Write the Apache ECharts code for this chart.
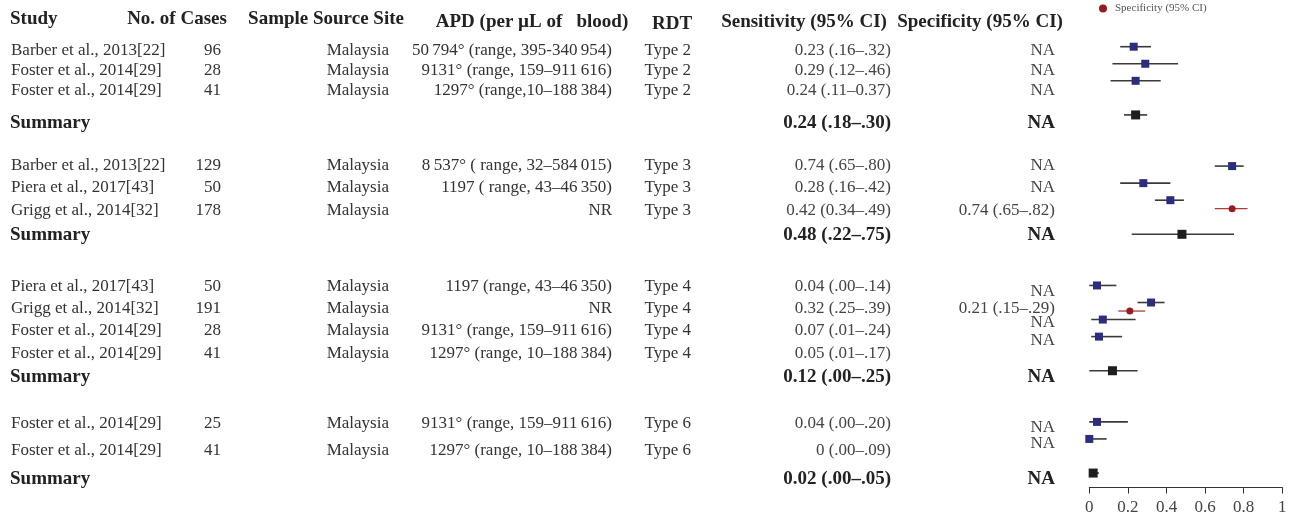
<!DOCTYPE html>
<html>
<head>
<meta charset="utf-8">
<script src="https://cdn.jsdelivr.net/npm/echarts@6/dist/echarts.min.js"></script>
<style>
  html, body { margin: 0; padding: 0; background: #fff; }
  #chart { width: 1295px; height: 518px; }
</style>
</head>
<body>
<div id="chart"></div>
<script>
// ---- study-level data ----
const groupSizes = [3, 3, 4, 2];
const studies = [
  "Barber et al., 2013[22]", "Foster et al., 2014[29]", "Foster et al., 2014[29]",
  "Barber et al., 2013[22]", "Piera et al., 2017[43]", "Grigg et al., 2014[32]",
  "Piera et al., 2017[43]", "Grigg et al., 2014[32]", "Foster et al., 2014[29]", "Foster et al., 2014[29]",
  "Foster et al., 2014[29]", "Foster et al., 2014[29]"
];
const cases = [96, 28, 41, 129, 50, 178, 50, 191, 28, 41, 25, 41];
const sites = ["Malaysia", "Malaysia", "Malaysia", "Malaysia", "Malaysia", "Malaysia",
  "Malaysia", "Malaysia", "Malaysia", "Malaysia", "Malaysia", "Malaysia"];
const apd = [
  "50\u2009794° (range, 395-340\u2009954)", "9131° (range, 159–911\u2009616)", "1297° (range,10–188\u2009384)",
  "8\u2009537° ( range, 32–584\u2009015)", "1197 ( range, 43–46\u2009350)", "NR",
  "1197 (range, 43–46\u2009350)", "NR", "9131° (range, 159–911\u2009616)", "1297° (range, 10–188\u2009384)",
  "9131° (range, 159–911\u2009616)", "1297° (range, 10–188\u2009384)"
];
const rdt = ["Type 2", "Type 2", "Type 2", "Type 3", "Type 3", "Type 3",
  "Type 4", "Type 4", "Type 4", "Type 4", "Type 6", "Type 6"];

// sensitivity (95% CI)
const sensEst = [0.23, 0.29, 0.24, 0.74, 0.28, 0.42, 0.04, 0.32, 0.07, 0.05, 0.04, 0.00];
const sensLo  = [0.16, 0.12, 0.11, 0.65, 0.16, 0.34, 0.00, 0.25, 0.01, 0.01, 0.00, 0.00];
const sensHi  = [0.32, 0.46, 0.37, 0.80, 0.42, 0.49, 0.14, 0.39, 0.24, 0.17, 0.20, 0.09];
const sensText = [
  "0.23 (.16–.32)", "0.29 (.12–.46)", "0.24 (.11–0.37)",
  "0.74 (.65–.80)", "0.28 (.16–.42)", "0.42 (0.34–.49)",
  "0.04 (.00–.14)", "0.32 (.25–.39)", "0.07 (.01–.24)", "0.05 (.01–.17)",
  "0.04 (.00–.20)", "0 (.00–.09)"
];

// specificity (95% CI); null = not available
const specEst = [null, null, null, null, null, 0.74, null, 0.21, null, null, null, null];
const specLo  = [null, null, null, null, null, 0.65, null, 0.15, null, null, null, null];
const specHi  = [null, null, null, null, null, 0.82, null, 0.29, null, null, null, null];
const specText = ["NA", "NA", "NA", "NA", "NA", "0.74 (.65–.82)",
  "NA", "0.21 (.15–.29)", "NA", "NA", "NA", "NA"];

// pooled estimates per RDT type
const sumEst = [0.24, 0.48, 0.12, 0.02];
const sumLo  = [0.18, 0.22, 0.00, 0.00];
const sumHi  = [0.30, 0.75, 0.25, 0.05];
const sumText = ["0.24 (.18–.30)", "0.48 (.22–.75)", "0.12 (.00–.25)", "0.02 (.00–.05)"];
const sumSpecText = ["NA", "NA", "NA", "NA"];

// x axis ticks
const xTicks = [0, 0.2, 0.4, 0.6, 0.8, 1];

// ---- plot rows: studies one per slot, pooled row after one blank slot, 2 blank slots between groups ----
const studySlot = [];
const sumSlot = [];
{
  let s = 0;
  groupSizes.forEach((n) => {
    for (let i = 0; i < n; i++) studySlot.push(s + i);
    sumSlot.push(s + n + 1);
    s = s + n + 4;
  });
}

// ---- table layout (vertical centres of the text lines) ----
const rowY = [50.5, 71, 91, 165.5, 188, 211, 286.5, 309, 331, 353.5, 423.5, 450.5];
const specRowY = [50.5, 71, 91, 165.5, 188, 211, 291.5, 309, 323, 341, 427.5, 443.5];
const sumRowY = [123, 235, 377.5, 479];

const SERIF = '"Liberation Serif", "DejaVu Serif", serif';
const BODY = '17px ' + SERIF;
const BOLD = 'bold 19px ' + SERIF;
const INK = '#333';

function txt(str, x, y, align, font, color) {
  return {
    type: 'text', x: x, y: y, silent: true,
    style: {
      text: str, font: font, fill: color || INK,
      align: align, verticalAlign: 'middle',
      textAlign: align, textVerticalAlign: 'middle'
    }
  };
}

const graphics = [];
// headers
graphics.push(txt('Study', 10, 19, 'left', BOLD, '#222'));
graphics.push(txt('No. of Cases', 177, 19, 'center', BOLD, '#222'));
graphics.push(txt('Sample Source Site', 326, 19, 'center', BOLD, '#222'));
graphics.push(txt('APD (per µL of \u2002blood)', 532, 22, 'center', BOLD, '#222'));
graphics.push(txt('RDT', 672, 24, 'center', BOLD, '#222'));
graphics.push(txt('Sensitivity (95% CI)', 804, 22, 'center', BOLD, '#222'));
graphics.push(txt('Specificity (95% CI)', 980, 22, 'center', BOLD, '#222'));

studies.forEach((s, i) => {
  const y = rowY[i];
  graphics.push(txt(s, 11, y, 'left', BODY));
  graphics.push(txt(String(cases[i]), 221, y, 'right', BODY));
  graphics.push(txt(sites[i], 389, y, 'right', BODY));
  graphics.push(txt(apd[i], 612, y, 'right', BODY));
  graphics.push(txt(rdt[i], 691, y, 'right', BODY));
  graphics.push(txt(sensText[i], 891, y, 'right', BODY, '#444'));
  graphics.push(txt(specText[i], 1055, specRowY[i], 'right', BODY, '#444'));
});
sumText.forEach((s, g) => {
  const y = sumRowY[g];
  graphics.push(txt('Summary', 10, y, 'left', BOLD, '#222'));
  graphics.push(txt(s, 891, y, 'right', BOLD, '#222'));
  graphics.push(txt(sumSpecText[g], 1055, y, 'right', BOLD, '#222'));
});

// ---- series data ----
const sensCI = studies.map((_, i) => [sensLo[i], sensHi[i], studySlot[i]]);
const sumCI = sumEst.map((_, g) => [sumLo[g], sumHi[g], sumSlot[g]]);
const specCI = [];
const specPts = [];
specEst.forEach((v, i) => {
  if (v === null) return;
  specCI.push([specLo[i], specHi[i], studySlot[i] + 0.5]);
  specPts.push([v, studySlot[i] + 0.5]);
});
const sensPts = sensEst.map((v, i) => [v, studySlot[i]]);
const sumPts = sumEst.map((v, g) => [v, sumSlot[g]]);

function ciSeries(data, color, width) {
  return {
    type: 'custom',
    data: data,
    encode: { x: [0, 1], y: 2 },
    z: 2,
    silent: true,
    renderItem: function (params, api) {
      const a = api.coord([api.value(0), api.value(2)]);
      const b = api.coord([api.value(1), api.value(2)]);
      return {
        type: 'line',
        shape: { x1: a[0], y1: a[1], x2: b[0], y2: b[1] },
        style: { stroke: color, lineWidth: width }
      };
    }
  };
}

const chart = echarts.init(document.getElementById('chart'), null, { renderer: 'canvas' });
chart.setOption({
  animation: false,
  backgroundColor: '#fff',
  graphic: graphics,
  legend: {
    data: ['Specificity (95% CI)'],
    left: 1099, top: 3, padding: 0,
    itemWidth: 8, itemHeight: 8, itemGap: 6,
    icon: 'circle',
    textStyle: { fontFamily: SERIF, fontSize: 11, color: '#555', padding: [0, 0, 0, 3] }
  },
  grid: { left: 1089.3, top: 29.65, width: 193, height: 457.9, containLabel: false },
  xAxis: {
    type: 'value', min: 0, max: 1, interval: 0.2, position: 'bottom',
    axisLine: { onZero: false, lineStyle: { color: '#333', width: 1 } },
    axisTick: { length: 6, lineStyle: { color: '#333' } },
    splitLine: { show: false },
    axisLabel: {
      margin: 11, color: '#444', fontFamily: SERIF, fontSize: 17,
      formatter: (v) => (xTicks.indexOf(+v.toFixed(1)) >= 0 ? String(+v.toFixed(1)) : '')
    }
  },
  yAxis: {
    type: 'value', inverse: true, min: -1, max: 25.85,
    show: false
  },
  series: [
    ciSeries(sensCI, '#3a3a3a', 1.6),
    ciSeries(sumCI, '#3a3a3a', 1.6),
    ciSeries(specCI, '#b03a3a', 1.3),
    {
      name: 'Sensitivity (95% CI)', type: 'scatter', data: sensPts, z: 3,
      symbol: 'rect', symbolSize: 8, itemStyle: { color: '#2c2d7e', opacity: 1 }
    },
    {
      name: 'Summary', type: 'scatter', data: sumPts, z: 3,
      symbol: 'rect', symbolSize: 9, itemStyle: { color: '#1e1e1e', opacity: 1 }
    },
    {
      name: 'Specificity (95% CI)', type: 'scatter', data: specPts, z: 4,
      symbol: 'circle', symbolSize: 7, itemStyle: { color: '#981b1e', opacity: 1 }
    }
  ]
});
</script>
</body>
</html>
